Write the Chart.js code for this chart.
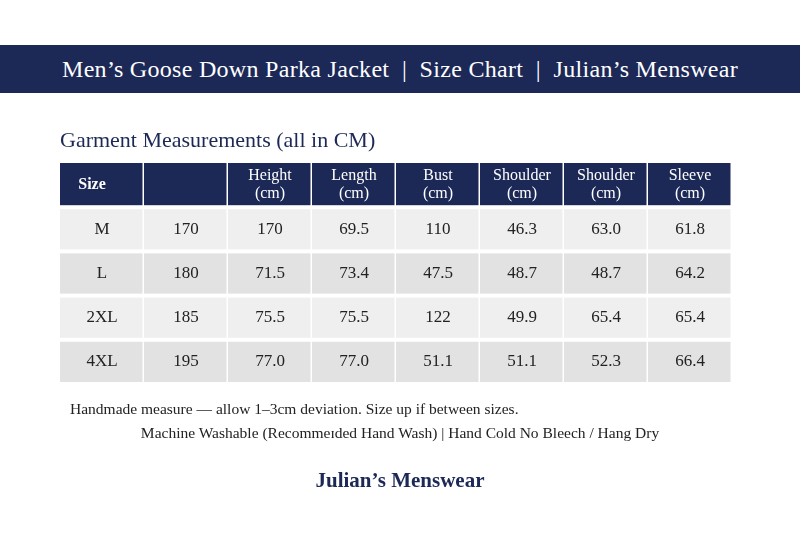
<!DOCTYPE html>
<html>
<head>
<meta charset="utf-8">
<script src="https://cdn.jsdelivr.net/npm/chart.js@4"></script>
<style>
  body { margin: 0; background: #fff; font-family: "Liberation Serif", serif; }
  #wrap { position: relative; width: 800px; height: 533px; }
  #banner { position: absolute; left: 0; top: 45px; width: 800px; height: 48px; background: #1c2856;
    color: #fff; font-size: 24px; text-align: center; line-height: 48px; letter-spacing: 0.3px; }
  .t { position: absolute; white-space: nowrap; }
  canvas { position: absolute; left: 0; top: 0; }
</style>
</head>
<body>
<div id="wrap">
  <canvas id="myChart" width="800" height="533"></canvas>
  <div id="banner">Men’s Goose Down Parka Jacket &nbsp;|&nbsp; Size Chart &nbsp;|&nbsp; Julian’s Menswear</div>
  <div class="t" style="left:60px;top:127px;font-size:22px;color:#1c2856;">Garment Measurements (all in CM)</div>
  <div class="t" style="left:70px;top:400px;font-size:15.5px;color:#222;">Handmade measure — allow 1–3cm deviation. Size up if between sizes.</div>
  <div class="t" style="left:0;width:800px;text-align:center;top:424px;font-size:15.5px;color:#222;">Machine Washable (Recommeɪded Hand Wash) | Hand Cold No Bleech / Hang Dry</div>
  <div class="t" style="left:0;width:800px;text-align:center;top:468px;font-size:21px;font-weight:bold;color:#1c2856;">Julian’s Menswear</div>
</div>
<script>
const columns = ['Size', '', 'Height\n(cm)', 'Length\n(cm)', 'Bust\n(cm)', 'Shoulder\n(cm)', 'Shoulder\n(cm)', 'Sleeve\n(cm)'];
const rowsLabels = ['header', 'M', 'L', '2XL', '4XL'];
const sizes = ['M', 'L', '2XL', '4XL'];
const stature = ['170', '180', '185', '195'];
const height = ['170', '71.5', '75.5', '77.0'];
const length = ['69.5', '73.4', '75.5', '77.0'];
const bust = ['110', '47.5', '122', '51.1'];
const shoulderA = ['46.3', '48.7', '49.9', '51.1'];
const shoulderB = ['63.0', '48.7', '65.4', '52.3'];
const sleeve = ['61.8', '64.2', '65.4', '66.4'];

const table = [sizes, stature, height, length, bust, shoulderA, shoulderB, sleeve];

const tablePlugin = {
    id: 'table',
    beforeDatasetsDraw(chart) {
        const c = chart.ctx;
        const xs = chart.scales.x, ys = chart.scales.y;
        const cw = xs.width / columns.length, rh = ys.height / rowsLabels.length;
        c.save();
        c.textAlign = 'center';
        c.textBaseline = 'middle';
        for (let r = 0; r < rowsLabels.length; r++) {
            const cy = ys.getPixelForValue(r);
            for (let i = 0; i < columns.length; i++) {
                const cx = xs.getPixelForValue(i);
                if (r === 0) {
                    c.fillStyle = '#1c2856';
                    c.fillRect(cx - cw / 2, cy - rh / 2, cw - 1.5, rh - 2);
                    c.fillStyle = '#fff';
                    c.font = (i === 0 ? 'bold ' : '') + '16px "Liberation Serif"';
                    const lines = columns[i].split('\n');
                    lines.forEach((l, k) => c.fillText(l, i === 0 ? cx - 10 : cx, cy + (k - (lines.length - 1) / 2) * 18));
                } else {
                    c.fillStyle = r % 2 ? '#efefef' : '#e2e2e2';
                    c.fillRect(cx - cw / 2, cy - rh / 2 + 2, cw - 1.5, rh - 4);
                    c.fillStyle = '#222';
                    c.font = '17px "Liberation Serif"';
                    c.fillText(table[i][r - 1], cx, cy);
                }
            }
        }
        c.restore();
    }
};

const myChart = new Chart(document.getElementById('myChart'), {
    type: 'scatter',
    data: { datasets: [{ data: [] }] },
    options: {
        responsive: false,
        animation: false,
        layout: { padding: { left: 60, right: 68, top: 163, bottom: 149 } },
        plugins: { legend: { display: false }, tooltip: { enabled: false } },
        scales: {
            x: { type: 'category', labels: columns.map((c, i) => String(i)), offset: true, display: false },
            y: { type: 'category', labels: rowsLabels, offset: true, display: false }
        }
    },
    plugins: [tablePlugin]
});
</script>
</body>
</html>
